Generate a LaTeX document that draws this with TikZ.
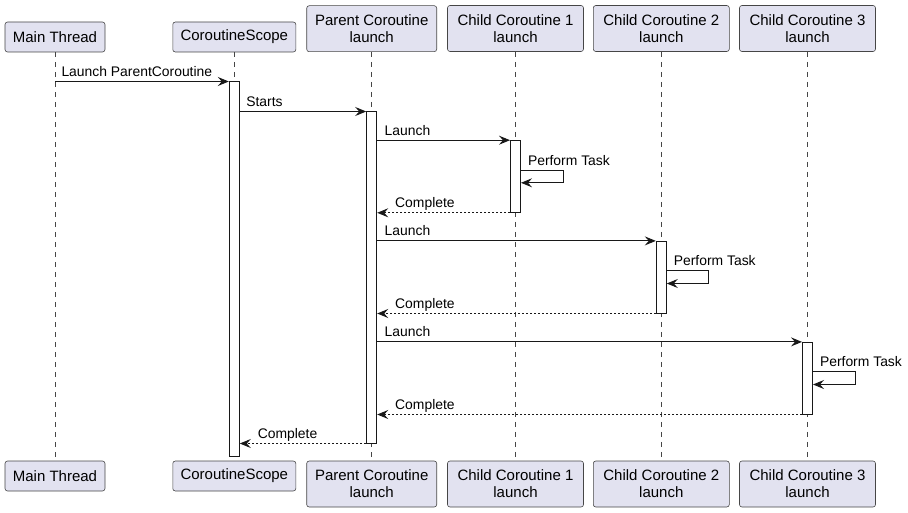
\documentclass[tikz,border=0pt]{standalone}
\usepackage{fontspec}
\setmainfont{Liberation Sans}
\usetikzlibrary{arrows.meta}
\definecolor{boxfill}{HTML}{E2E2F0}
\definecolor{boxline}{HTML}{181818}
\tikzset{
  party/.style={shape=rectangle, draw=boxline!80, fill=boxfill, line width=0.6pt, rounded corners=2.5pt, inner sep=0, align=center, font=\fontsize{15}{17}\selectfont},
  life/.style={draw=boxline!80, line width=0.5pt, dash pattern=on 5pt off 5pt},
  act/.style={shape=rectangle, draw=boxline, fill=white, line width=1pt, inner sep=0, minimum width=10pt},
  msg/.style={draw=boxline, line width=1pt, -{Stealth[length=11pt,width=9pt,inset=4pt]}},
  ret/.style={msg, dash pattern=on 2pt off 2pt},
  lbl/.style={font=\fontsize{13.9}{16}\selectfont, inner sep=0, anchor=base west, yshift=5pt},
}
\begin{document}
\begin{tikzpicture}[x=1pt, y=-1pt]
  \useasboundingbox (0,0) rectangle (908,513);
  % Participants, top and bottom:
  \node[party, minimum width=100pt, minimum height=30pt] (mt) at (55, 37) {Main Thread};
  \node[party, minimum width=123pt, minimum height=30pt] (cs) at (234.3, 37) {CoroutineScope};
  \node[party, minimum width=130pt, minimum height=46pt] (pc) at (371.7, 28.7) {Parent Coroutine\\launch};
  \node[party, minimum width=136pt, minimum height=46pt] (c1) at (515.5, 28.5) {Child Coroutine 1\\launch};
  \node[party, minimum width=136pt, minimum height=46pt] (c2) at (661.3, 28.5) {Child Coroutine 2\\launch};
  \node[party, minimum width=136pt, minimum height=46pt] (c3) at (807.5, 28.5) {Child Coroutine 3\\launch};
  \node[party, minimum width=100pt, minimum height=30pt] (mtb) at (55, 476) {Main Thread};
  \node[party, minimum width=123pt, minimum height=30pt] (csb) at (234.3, 476) {CoroutineScope};
  \node[party, minimum width=130pt, minimum height=46pt] (pcb) at (371.7, 484) {Parent Coroutine\\launch};
  \node[party, minimum width=136pt, minimum height=46pt] (c1b) at (515.5, 484) {Child Coroutine 1\\launch};
  \node[party, minimum width=136pt, minimum height=46pt] (c2b) at (661.3, 484) {Child Coroutine 2\\launch};
  \node[party, minimum width=136pt, minimum height=46pt] (c3b) at (807.5, 484) {Child Coroutine 3\\launch};
  % Lifelines:
  \draw[life] (mt.south) -- (mtb.north);
  \draw[life] (cs.south) -- (csb.north);
  \draw[life] (pc.south) -- (pcb.north);
  \draw[life] (c1.south) -- (c1b.north);
  \draw[life] (c2.south) -- (c2b.north);
  \draw[life] (c3.south) -- (c3b.north);
  % Activations:
  \node[act, minimum height=374pt] (acs) at (234.3, 269) {};
  \node[act, minimum height=331pt] (apc) at (371.7, 277.5) {};
  \node[act, minimum height=71.6pt] (ac1) at (515.5, 176.5) {};
  \node[act, minimum height=71.6pt] (ac2) at (661.3, 277.2) {};
  \node[act, minimum height=71.6pt] (ac3) at (807.5, 378.2) {};
  % Messages:
  \draw[msg] (mt.south |- acs.north) -- node[lbl, pos=0, xshift=6pt]{Launch ParentCoroutine} (acs.north west);
  \draw[msg] (acs.east |- apc.north) -- node[lbl, pos=0, xshift=6pt]{Starts} (apc.north west);
  \draw[msg] (apc.east |- ac1.north) -- node[lbl, pos=0, xshift=7pt]{Launch} (ac1.north west);
  \draw[msg] ([yshift=-30pt]ac1.north east) -- node[lbl, pos=0, xshift=6.5pt]{Perform Task} ++(42,0) -- ++(0,12.6) -- ([yshift=-42.6pt]ac1.north east);
  \draw[ret] (ac1.south west) -- node[lbl, pos=1, xshift=17.5pt]{Complete} (apc.east |- ac1.south);
  \draw[msg] (apc.east |- ac2.north) -- node[lbl, pos=0, xshift=7pt]{Launch} (ac2.north west);
  \draw[msg] ([yshift=-30pt]ac2.north east) -- node[lbl, pos=0, xshift=6.5pt]{Perform Task} ++(42,0) -- ++(0,12.6) -- ([yshift=-42.6pt]ac2.north east);
  \draw[ret] (ac2.south west) -- node[lbl, pos=1, xshift=17.5pt]{Complete} (apc.east |- ac2.south);
  \draw[msg] (apc.east |- ac3.north) -- node[lbl, pos=0, xshift=7pt]{Launch} (ac3.north west);
  \draw[msg] ([yshift=-30pt]ac3.north east) -- node[lbl, pos=0, xshift=6.5pt]{Perform Task} ++(42,0) -- ++(0,12.6) -- ([yshift=-42.6pt]ac3.north east);
  \draw[ret] (ac3.south west) -- node[lbl, pos=1, xshift=17.5pt]{Complete} (apc.east |- ac3.south);
  \draw[ret] (apc.south west) -- node[lbl, pos=1, xshift=17.5pt]{Complete} (acs.east |- apc.south);
\end{tikzpicture}
\end{document}
